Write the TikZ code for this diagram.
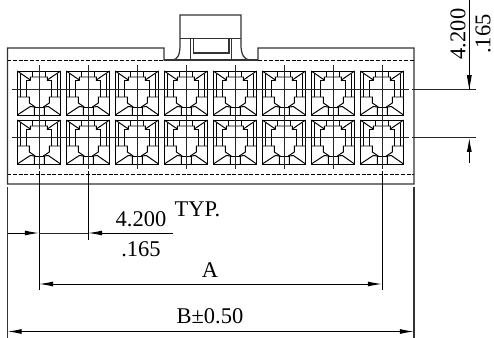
\documentclass[tikz,border=0pt]{standalone}
\usepackage{fontspec}
\setmainfont{Liberation Serif}
\usetikzlibrary{arrows.meta}
\tikzset{
  outline/.style={line width=.7pt,black!80},
  thinline/.style={line width=.56pt,black},
  cellline/.style={line width=.56pt,black},
  centerline/.style={line width=.56pt,black!85},
  dimline/.style={line width=.56pt,black,{Latex[length=8pt,width=2.8pt]}-{Latex[length=8pt,width=2.8pt]}},
  dimtip/.style={line width=.56pt,black,-{Latex[length=8pt,width=2.8pt]}},
  dimtext/.style={font=\fontsize{12.8}{14}\selectfont,inner sep=0pt},
}
\newcommand{\terminalcell}[2]{%
  \begin{scope}[shift={(#1,#2)},cellline]
    \draw (0,0) rectangle (43.3,44);
    \draw (0,0) -- (13,9) -- (13,6) -- (30,6) -- (30,9) -- (43.3,0);
    \draw (0,44) -- (13,35.5) -- (17,36) -- (17,44);
    \draw (43.3,44) -- (31,35.5) -- (27,36) -- (27,44);
    \draw (17,36) -- (27,36);
    \draw (15,0) -- (15,6) (28,0) -- (28,6);
    \draw (9,9) -- (13,9) (9,9) -- (9,26) (34.3,9) -- (30,9) (34.3,9) -- (34.3,26);
    \draw (3.5,3) -- (3.5,26) (39.8,3) -- (39.8,26);
    \draw (0,26) -- (12,26) -- (12,32) -- (18,36);
    \draw (43.3,26) -- (32,26) -- (32,32) -- (26,36);
  \end{scope}}
\begin{document}
\begin{tikzpicture}[x=.02cm,y=-.02cm]
  \useasboundingbox (0,0) rectangle (494,338);
  % housing
  \draw[outline] (7.5,184) -- (7.5,48) -- (164,48) -- (164,60) -- (172,60) .. controls (178,60) and (180,54) .. (180,45) -- (180,15) -- (241,15) -- (241,45) .. controls (241,54) and (244,60) .. (250,60) -- (258,60) -- (258,48) -- (414,48) -- (414,184) -- cycle;
  \draw[outline] (164,60) -- (258,60);
  \draw[thinline,dash pattern=on 2.2pt off 1pt] (7.5,60.5) -- (164,60.5) (258,60.5) -- (414,60.5);
  \draw[thinline,dash pattern=on 2.2pt off 1pt] (7.5,174) -- (414,174);
  % latch
  \draw[outline] (180,38.5) -- (241,38.5);
  \draw[outline] (190.3,38.5) -- (190.3,60) (231.7,38.5) -- (231.7,60);
  \draw[outline] (193.7,38.5) -- (193.7,53) -- (229,53) -- (229,38.5);
  % cavities
  \foreach \i in {0,...,7}{
    \terminalcell{17.3+49*\i}{71}
    \terminalcell{17.3+49*\i}{120}
    \draw[centerline] ({39+49*\i},65) -- ({39+49*\i},169);
  }
  \draw[centerline] (12,89) -- (409,89) (412,89) -- (476,89);
  \draw[centerline] (12,137.7) -- (409,137.7) (412,137.7) -- (476,137.7);
  % extension lines
  \draw[thinline] (39,171) -- (39,290) (88,171) -- (88,240) (382,171) -- (382,290);
  \draw[outline] (7.5,187) -- (7.5,338) (414,187) -- (414,338);
  % dimensions
  \coordinate (leftend) at (7.5,233);
  \coordinate (lefttip) at (39,233);
  \coordinate (righttip) at (88,233);
  \coordinate (rightend) at (173,233);
  \draw[dimtip] (leftend) -- (lefttip);
  \draw[dimtip] (rightend) -- (righttip);
  \draw[centerline] (lefttip) -- (righttip);
  \coordinate (aleft) at (39,284);
  \coordinate (aright) at (382,284);
  \draw[dimline] (aleft) -- (aright);
  \coordinate (bleft) at (7.5,331.5);
  \coordinate (bright) at (414,331.5);
  \draw[dimline] (bleft) -- (bright);
  \coordinate (vtop) at (469.3,0);
  \coordinate (vtiptop) at (469.3,89);
  \coordinate (vtipbot) at (469.3,137.7);
  \coordinate (vbot) at (469.3,163);
  \draw[thinline] (vtop) -- (vtiptop);
  \fill[black] (vtiptop) -- (466.8,75) -- (471.8,75) -- cycle;
  \draw[dimtip] (vbot) -- (vtipbot);
  \node[dimtext] (pitchmm) at (141,219) {4.200};
  \node[dimtext] (pitchin) at (141,249) {.165};
  \node[dimtext] (typ) at (197.5,209) {TYP.};
  \node[dimtext] (dima) at (210,270) {A};
  \node[dimtext] (dimb) at (210,316) {B±0.50};
  \node[dimtext,rotate=90] (sidemm) at (458,34) {4.200};
  \node[dimtext,rotate=90] (sidein) at (483,34) {.165};
\end{tikzpicture}
\end{document}
